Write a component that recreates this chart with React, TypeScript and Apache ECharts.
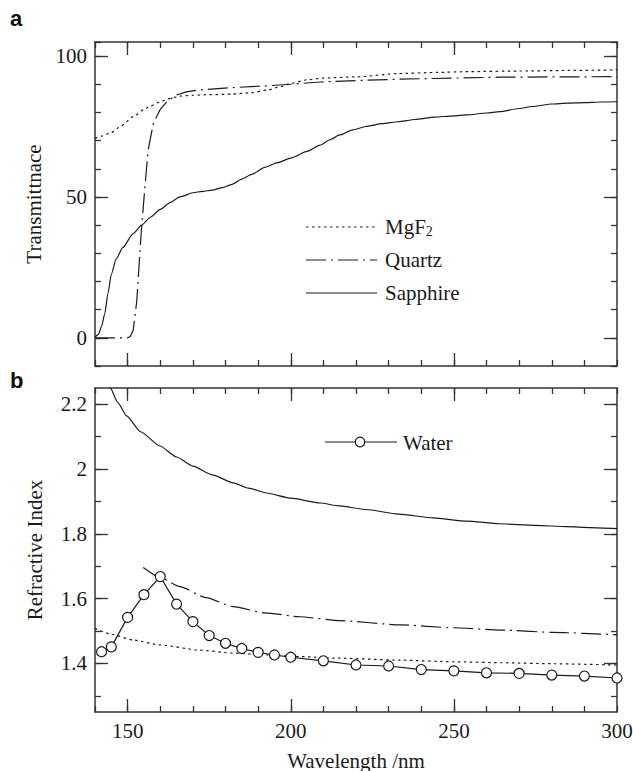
import React, { useEffect, useRef } from "react";
import * as echarts from "echarts";

// ---------- data ----------
const xMin = 140;
const xMax = 300;
const xLabelTicks = [150, 200, 250, 300];
const xMajorTicks = [150, 200, 250];
const transLabelTicks = [0, 50, 100];
const indexLabelTicks = [1.4, 1.6, 1.8, 2, 2.2];
const indexMinorTicks = [1.3, 1.4, 1.5, 1.6, 1.7, 1.8, 1.9, 2.0, 2.1, 2.2];

// panel a: transmittance (%)
const mgf2Trans = [
  [140, 70.8], [142, 71.6], [144.6, 72.6], [148, 75.2], [151.7, 78.5], [155, 81], [157, 82.3],
  [160, 83.8], [163, 85], [166, 85.8], [170, 86.1], [175, 86.3], [182, 86.5], [188, 87],
  [193, 88], [197, 89.2], [200, 90.3], [205, 91.6], [210, 92.2], [220, 92.6], [233, 93.8],
  [245, 94.2], [255, 94.5], [270, 94.7], [285, 94.9], [300, 95.1],
];
const quartzTrans = [
  [140, 0], [150, 0], [150.8, 0.5], [151.7, 2.6], [152.8, 13], [153.8, 31], [154.3, 39.4],
  [155.3, 53.6], [156.3, 66.7], [157.9, 76.2], [159.9, 80.9], [162, 83.8], [165, 86.2],
  [168, 87.3], [172, 88], [182, 88.8], [192, 89.4], [200, 90], [209, 90.8], [220, 91.3],
  [233, 91.8], [250, 92.2], [264, 92.5], [280, 92.6], [300, 92.7],
];
const sapphireTrans = [
  [140, 0.2], [141, 1.2], [142, 4], [143, 8.6], [144, 16], [145, 22.5], [146.5, 28],
  [148.5, 32], [151.7, 37], [154.3, 40], [157, 42.8], [160, 45.6], [163, 48], [166, 50],
  [170, 51.5], [173, 52], [176, 52.4], [179, 53.3], [182, 54.5], [185, 56.3], [188, 58],
  [192, 60.5], [196, 62.2], [200, 63.8], [205, 66.2], [209, 68.4], [212, 70.3], [215, 72],
  [219, 73.8], [223, 75], [228, 76], [233, 76.7], [238, 77.5], [244, 78.3], [250, 78.8],
  [254, 79.1], [260, 79.8], [264, 80.3], [270, 81.4], [274, 82.1], [280, 83], [285, 83.3],
  [290, 83.5], [295, 83.7], [300, 83.8],
];

// panel b: refractive index
const mgf2Index = [
  [140, 1.508], [145, 1.49], [151.7, 1.472], [160, 1.457], [172, 1.441], [182, 1.432],
  [192.6, 1.426], [202.8, 1.421], [215, 1.416], [233.5, 1.41], [250, 1.405], [265, 1.402],
  [280, 1.399], [300, 1.395],
];
const quartzIndex = [
  [154.8, 1.696], [160, 1.665], [166, 1.637], [174, 1.603], [182.4, 1.575], [192, 1.556],
  [202.8, 1.544], [215, 1.532], [233.5, 1.519], [250, 1.51], [264, 1.503], [280, 1.496],
  [300, 1.488],
];
const sapphireIndex = [
  [143, 2.3], [144.6, 2.252], [147, 2.205], [149.7, 2.164], [154, 2.115], [159.9, 2.071],
  [165, 2.037], [170, 2.009], [176, 1.982], [182.4, 1.957], [187, 1.941], [192.6, 1.926],
  [200, 1.91], [209, 1.895], [215, 1.886], [223, 1.875], [233, 1.861], [243.7, 1.849],
  [254, 1.839], [264, 1.831], [275, 1.826], [284.6, 1.822], [292, 1.819], [300, 1.816],
];
const waterWavelength = [142, 145, 150, 155, 160, 165, 170, 175, 180, 185, 190, 195, 200, 210, 220, 230, 240, 250, 260, 270, 280, 290, 300];
const waterIndex = [1.436, 1.451, 1.542, 1.612, 1.668, 1.583, 1.529, 1.486, 1.462, 1.446, 1.434, 1.426, 1.419, 1.408, 1.395, 1.392, 1.381, 1.377, 1.371, 1.369, 1.364, 1.361, 1.355];

// ---------- styles ----------
const SERIF = "Liberation Serif";
const SANS = "Liberation Sans";
const INK = "#1a1a1a";
const FRAME = "#333";
const DOT = [2.5, 3.5];
const DASHDOT = [20, 5, 2, 5];

const lineStyleFrame = { color: FRAME, width: 1.5 };
const tickStyle = { color: FRAME, width: 1.3 };
const labelStyle = { fontFamily: SERIF, fontSize: 21, color: INK };
const nameStyle = { fontFamily: SERIF, fontSize: 21, color: INK };

function xAxesFor(gridIndex: number, withLabels: boolean) {
  const base = { type: "value", gridIndex, min: xMin, max: xMax, splitLine: { show: false } };
  return [
    {
      ...base,
      position: "bottom",
      interval: 10,
      axisLine: { show: true, onZero: false, lineStyle: lineStyleFrame },
      axisTick: { show: true, inside: true, length: 6, lineStyle: tickStyle },
      axisLabel: withLabels
        ? { show: true, customValues: xLabelTicks, margin: 8, ...labelStyle }
        : { show: false },
      name: withLabels ? "Wavelength /nm" : "",
      nameLocation: "middle",
      nameGap: 38,
      nameTextStyle: nameStyle,
    },
    {
      ...base,
      position: "bottom",
      axisLine: { show: false, onZero: false },
      axisTick: { show: true, inside: true, length: 13, customValues: xMajorTicks, lineStyle: tickStyle },
      axisLabel: { show: false },
    },
    {
      ...base,
      position: "top",
      interval: 10,
      axisLine: { show: true, onZero: false, lineStyle: lineStyleFrame },
      axisTick: { show: true, inside: true, length: 6, lineStyle: tickStyle },
      axisLabel: { show: false },
    },
    {
      ...base,
      position: "top",
      axisLine: { show: false, onZero: false },
      axisTick: { show: true, inside: true, length: 13, customValues: xMajorTicks, lineStyle: tickStyle },
      axisLabel: { show: false },
    },
  ];
}

function yAxesFor(
  gridIndex: number,
  min: number,
  max: number,
  minorTicks: number[] | null,
  majorTicks: number[],
  name: string
) {
  const base = { type: "value", gridIndex, min, max, splitLine: { show: false } };
  const minorTick = minorTicks
    ? { show: true, inside: true, length: 6, customValues: minorTicks, lineStyle: tickStyle }
    : { show: true, inside: true, length: 6, lineStyle: tickStyle };
  const minorInterval = minorTicks ? {} : { interval: 10 };
  return [
    {
      ...base,
      ...minorInterval,
      position: "left",
      axisLine: { show: true, onZero: false, lineStyle: lineStyleFrame },
      axisTick: minorTick,
      axisLabel: { show: true, customValues: majorTicks, margin: 8, ...labelStyle },
      name,
      nameLocation: "middle",
      nameGap: 50,
      nameTextStyle: nameStyle,
    },
    {
      ...base,
      position: "left",
      axisLine: { show: false, onZero: false },
      axisTick: { show: true, inside: true, length: 13, customValues: majorTicks, lineStyle: tickStyle },
      axisLabel: { show: false },
    },
    {
      ...base,
      ...minorInterval,
      position: "right",
      axisLine: { show: true, onZero: false, lineStyle: lineStyleFrame },
      axisTick: minorTick,
      axisLabel: { show: false },
    },
    {
      ...base,
      position: "right",
      axisLine: { show: false, onZero: false },
      axisTick: { show: true, inside: true, length: 13, customValues: majorTicks, lineStyle: tickStyle },
      axisLabel: { show: false },
    },
  ];
}

function curve(name: string, data: number[][], xi: number, yi: number, dash: any, z = 3) {
  return {
    name,
    type: "line",
    xAxisIndex: xi,
    yAxisIndex: yi,
    data,
    showSymbol: false,
    symbol: "none",
    smooth: 0.2,
    smoothMonotone: "x",
    clip: true,
    z,
    lineStyle: { color: INK, width: 1.2, type: dash },
  };
}

export default function App() {
  const ref = useRef<HTMLDivElement>(null);

  useEffect(() => {
    if (!ref.current) return;
    const chart = echarts.init(ref.current, null, { renderer: "svg" });

    const waterData = waterWavelength.map((w, i) => [w, waterIndex[i]]);

    const legendTop = [
      { y: 227, dash: DOT, label: "MgF{sub|2}" },
      { y: 260, dash: DASHDOT, label: "Quartz" },
      { y: 293, dash: null, label: "Sapphire" },
    ];

    const graphic: any[] = [
      {
        type: "text",
        x: 10,
        y: 18,
        style: { text: "a", fontFamily: SANS, fontWeight: "bold", fontSize: 22, fill: "#111", verticalAlign: "middle" },
      },
      {
        type: "text",
        x: 10,
        y: 380,
        style: { text: "b", fontFamily: SANS, fontWeight: "bold", fontSize: 22, fill: "#111", verticalAlign: "middle" },
      },
    ];
    legendTop.forEach((it) => {
      graphic.push({
        type: "line",
        shape: { x1: 306, y1: it.y, x2: 377, y2: it.y },
        style: { stroke: INK, lineWidth: 1.2, lineDash: it.dash || undefined },
      });
      graphic.push({
        type: "text",
        x: 385,
        y: it.y,
        style: {
          text: it.label,
          fontFamily: SERIF,
          fontSize: 21,
          fill: INK,
          verticalAlign: "middle",
          rich: {
            sub: { fontFamily: SERIF, fontSize: 14, fill: INK, verticalAlign: "top", padding: [8, 0, 0, 0] },
          },
        },
      });
    });
    // water legend
    graphic.push({
      type: "line",
      shape: { x1: 325, y1: 442, x2: 397, y2: 442 },
      style: { stroke: INK, lineWidth: 1.2 },
    });
    graphic.push({
      type: "circle",
      shape: { cx: 360, cy: 442, r: 4.8 },
      style: { fill: "#fff", stroke: INK, lineWidth: 1.2 },
      z: 10,
    });
    graphic.push({
      type: "text",
      x: 403,
      y: 443,
      style: { text: "Water", fontFamily: SERIF, fontSize: 21, fill: INK, verticalAlign: "middle" },
    });

    const option: any = {
      animation: false,
      backgroundColor: "#ffffff",
      textStyle: { fontFamily: SERIF },
      grid: [
        { left: 95, top: 42, width: 522, height: 324, outerBoundsMode: "none", containLabel: false },
        { left: 95, top: 388, width: 522, height: 324, outerBoundsMode: "none", containLabel: false },
      ],
      xAxis: [...xAxesFor(0, false), ...xAxesFor(1, true)],
      yAxis: [
        ...yAxesFor(0, -10, 105, null, transLabelTicks, "Transmittnace"),
        ...yAxesFor(1, 1.25, 2.25, indexMinorTicks, indexLabelTicks, "Refractive Index"),
      ],
      series: [
        curve("MgF2", mgf2Trans, 0, 0, DOT),
        { ...curve("Quartz", quartzTrans, 0, 0, DASHDOT), smooth: false },
        curve("Sapphire", sapphireTrans, 0, 0, "solid"),
        curve("MgF2 index", mgf2Index, 4, 4, DOT),
        curve("Quartz index", quartzIndex, 4, 4, DASHDOT),
        curve("Sapphire index", sapphireIndex, 4, 4, "solid"),
        {
          name: "Water",
          type: "line",
          xAxisIndex: 4,
          yAxisIndex: 4,
          data: waterData,
          symbol: "circle",
          symbolSize: 10,
          showSymbol: true,
          z: 5,
          lineStyle: { color: INK, width: 1.2 },
          itemStyle: { color: "#fff", borderColor: INK, borderWidth: 1.2 },
        },
      ],
      graphic,
    };

    chart.setOption(option);
    return () => chart.dispose();
  }, []);

  return (
    <div
      ref={ref}
      style={{ position: "fixed", left: 0, top: 0, width: 633, height: 771, background: "#fff" }}
    />
  );
}
